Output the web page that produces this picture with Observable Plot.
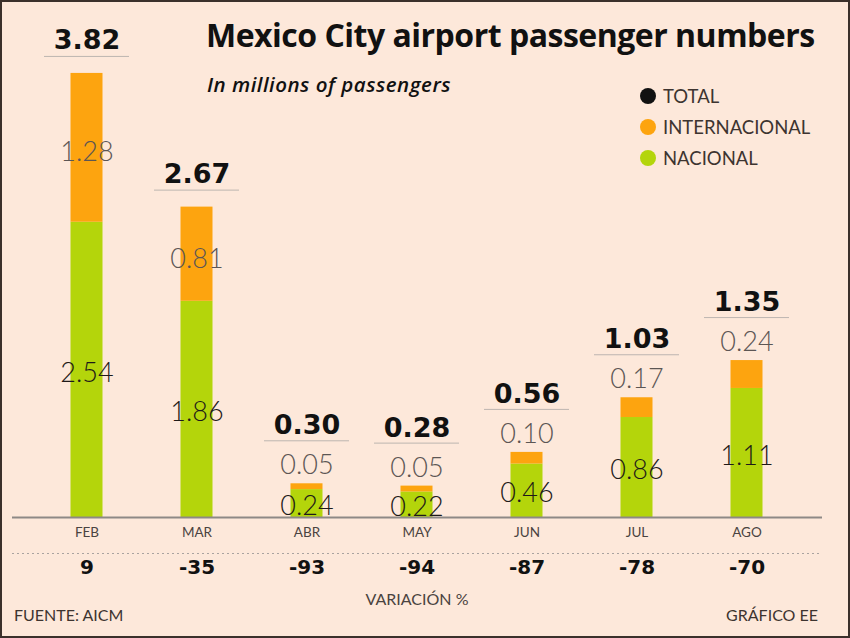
<!DOCTYPE html>
<html><head><meta charset="utf-8">
<script src="https://cdn.jsdelivr.net/npm/d3@7"></script>
<script src="https://cdn.jsdelivr.net/npm/@observablehq/plot@0.6"></script>
<style>
body{margin:0;background:#fde8da}
#wrap{position:relative;width:850px;height:638px;background:#fde8da;overflow:hidden;font-family:Lato,sans-serif}
#wrap svg{position:absolute;left:0;top:0}
#border{position:absolute;left:0;top:0;width:850px;height:638px;box-sizing:border-box;border:2px solid #3b302b;pointer-events:none}
.title{position:absolute;left:206px;top:13px;font-family:"Open Sans",sans-serif;font-weight:700;font-size:32px;color:#111;white-space:nowrap;letter-spacing:-0.5px}
.subtitle{position:absolute;left:207px;top:70px;font-family:"Open Sans",sans-serif;font-weight:600;font-style:italic;font-size:20.5px;color:#111;white-space:nowrap;letter-spacing:0.5px}
.legend{position:absolute;left:640px;top:80px}
.legend div{display:flex;align-items:center;height:31px;font-family:Lato,sans-serif;font-weight:400;font-size:18.5px;color:#3d3430;white-space:nowrap}
.legend span.dot{display:inline-block;width:16px;height:16px;border-radius:50%;margin-right:7px}
.cap{position:absolute;top:605px;font-family:Lato,sans-serif;font-size:16px;color:#3d3430;white-space:nowrap}
</style></head>
<body>
<div id="wrap">
  <div class="title">Mexico City airport passenger numbers</div>
  <div class="subtitle">In millions of passengers</div>
  <div class="legend" id="legend"></div>
  <div class="cap" style="left:14px">FUENTE: AICM</div>
  <div class="cap" style="right:32px">GRÁFICO EE</div>
  <div id="border"></div>
</div>
<script>
const months = ["FEB","MAR","ABR","MAY","JUN","JUL","AGO"];
const nacional = [2.54,1.86,0.24,0.22,0.46,0.86,1.11];
const internacional = [1.28,0.81,0.05,0.05,0.10,0.17,0.24];
const total = [3.82,2.67,0.30,0.28,0.56,1.03,1.35];
const variacion = [9,-35,-93,-94,-87,-78,-70];
const seriesNames = ["TOTAL","INTERNACIONAL","NACIONAL"];
const seriesColors = ["#111111","#fda40f","#b4d50b"];

const green = seriesColors[2], orange = seriesColors[1];
const rows = months.map((m,i)=>({
  month:m, nac:nacional[i], int:internacional[i], top:nacional[i]+internacional[i],
  total:total[i], varp:variacion[i], inside: internacional[i] >= 0.3
}));
const segs = rows.flatMap(d=>[
  {month:d.month, serie:"NACIONAL", y1:0, y2:d.nac},
  {month:d.month, serie:"INTERNACIONAL", y1:d.nac, y2:d.top}
]);
const inside = rows.filter(d=>d.inside);
const above = rows.filter(d=>!d.inside);
const valFont = "Lato, sans-serif";
const boldFont = "DejaVu Sans, sans-serif";

const chart = Plot.plot({
  width:850, height:638,
  marginTop:52, marginBottom:121, marginLeft:16, marginRight:33,
  style:{background:"transparent", overflow:"visible"},
  x:{domain:months, padding:0.224, axis:null},
  y:{domain:[0,4], axis:null},
  color:{domain:["NACIONAL","INTERNACIONAL"], range:[green, orange]},
  marks:[
    Plot.barY(segs,{x:"month", y1:"y1", y2:"y2", fill:"serie", insetLeft:26.5, insetRight:26.5}),
    Plot.ruleY([0],{stroke:"#8e8986", strokeWidth:2, insetLeft:-4, insetRight:-5}),
    Plot.ruleY([0],{dy:36, stroke:"#a9a3a0", strokeDasharray:"2,3", insetLeft:-4, insetRight:-5}),
    // nacional labels
    Plot.text(rows,{x:"month", y:d=>d.nac/2, text:d=>d.nac.toFixed(2), dy:3, fontSize:27, fontFamily:valFont, fontWeight:300, fill:"#1e1a18"}),
    // internacional labels
    Plot.text(inside,{x:"month", y:d=>d.nac+d.int/2, text:d=>d.int.toFixed(2), dy:5, fontSize:27, fontFamily:valFont, fontWeight:300, fill:"#5c5654"}),
    Plot.text(above,{x:"month", y:"top", text:d=>d.int.toFixed(2), dy:-18, fontSize:27, fontFamily:valFont, fontWeight:300, fill:"#5c5654"}),
    // totals
    Plot.text(inside,{x:"month", y:"top", text:d=>d.total.toFixed(2), dy:-33, fontSize:27, fontFamily:boldFont, fontWeight:"bold", fill:"#111"}),
    Plot.text(above,{x:"month", y:"top", text:d=>d.total.toFixed(2), dy:-58, fontSize:27, fontFamily:boldFont, fontWeight:"bold", fill:"#111"}),
    Plot.tickY(inside,{x:"month", y:"top", dy:-17, stroke:"#bdb5b0", strokeWidth:1}),
    Plot.tickY(above,{x:"month", y:"top", dy:-43, stroke:"#bdb5b0", strokeWidth:1}),
    // month labels
    Plot.text(rows,{x:"month", text:"month", frameAnchor:"bottom", dy:19, fontSize:13.5, fontFamily:valFont, fill:"#4a4340"}),
    // variation
    Plot.text(rows,{x:"month", text:d=>String(d.varp), frameAnchor:"bottom", dy:56, fontSize:20, fontFamily:boldFont, fontWeight:"bold", fill:"#111"}),
    Plot.text(["VARIACIÓN %"],{frameAnchor:"bottom", dy:87, fontSize:16, fontFamily:valFont, fill:"#4a4340"})
  ]
});
const wrap = document.getElementById("wrap");
wrap.insertBefore(chart, wrap.firstChild);

const lg = document.getElementById("legend");
seriesNames.forEach((n,i)=>{
  const row = document.createElement("div");
  const dot = document.createElement("span");
  dot.className="dot"; dot.style.background=seriesColors[i];
  row.appendChild(dot);
  row.appendChild(document.createTextNode(n));
  lg.appendChild(row);
});
</script>
</body></html>
